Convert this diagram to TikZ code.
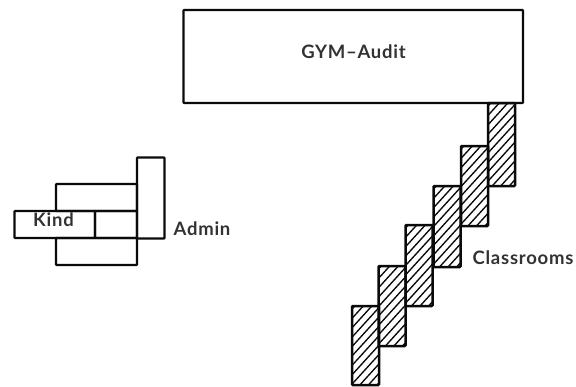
\documentclass[tikz,border=0pt]{standalone}
\usepackage{fontspec}
\setmainfont{Lato}[LetterSpace=4]
\definecolor{ink}{RGB}{10,10,10}
\definecolor{txt}{RGB}{50,50,50}
\tikzset{
  room/.style={draw=ink,line width=2.2pt,rounded corners=0.8pt,inner sep=0pt,outer sep=0pt,anchor=north west,minimum width=#1},
  hatched/.style={room=27pt,line width=2.5pt},
  hatchline/.style={draw=ink,line width=1.35pt},
  lab/.style={font=\bfseries\fontsize{18.5}{20}\selectfont,text=txt,inner sep=0pt}
}
% name, x, y, height: a hatched room, its hatching clipped to it
\newcommand{\hatchroom}[4]{%
  \begin{scope}
    \clip (#2,#3) rectangle ++(27,#4);
    \foreach \k in {0,1,...,12}
      \draw[hatchline] (#2,#3+\k*9.4+3) -- ++(27,-29.7);
  \end{scope}
  \node[hatched,minimum height=#4 pt] (#1) at (#2,#3) {};
}
\begin{document}
\begin{tikzpicture}[x=1pt,y=-1pt]
\useasboundingbox (0,0) rectangle (576,386);
\node[room=339.5pt,minimum height=93pt] (gym) at (183.5,10) {};
\node[lab] (gymt) at (353.5,51.5) {GYM–Audit};
% Admin block
\node[room=27.5pt,minimum height=81pt] (tall) at (137,157.5) {};
\node[room=81pt,minimum height=27pt] (upper) at (56,184) {};
\node[room=80.5pt,minimum height=27pt] (kind) at (14.5,211) {};
\node[room=42pt,minimum height=27pt] (mid) at (95,211) {};
\node[room=81pt,minimum height=27pt] (lower) at (56,238) {};
\node[lab] (kindt) at (53.5,220) {Kind};
\node[lab] (admint) at (202,229) {Admin};
% Classrooms
\hatchroom{c1}{488}{103}{83}
\hatchroom{c2}{461}{146}{80}
\hatchroom{c3}{433.5}{186}{81}
\hatchroom{c4}{405.5}{225}{81}
\hatchroom{c5}{378.5}{266}{80}
\hatchroom{c6}{352}{306}{79}
\node[lab] (classt) at (523,258) {Classrooms};
\end{tikzpicture}
\end{document}
